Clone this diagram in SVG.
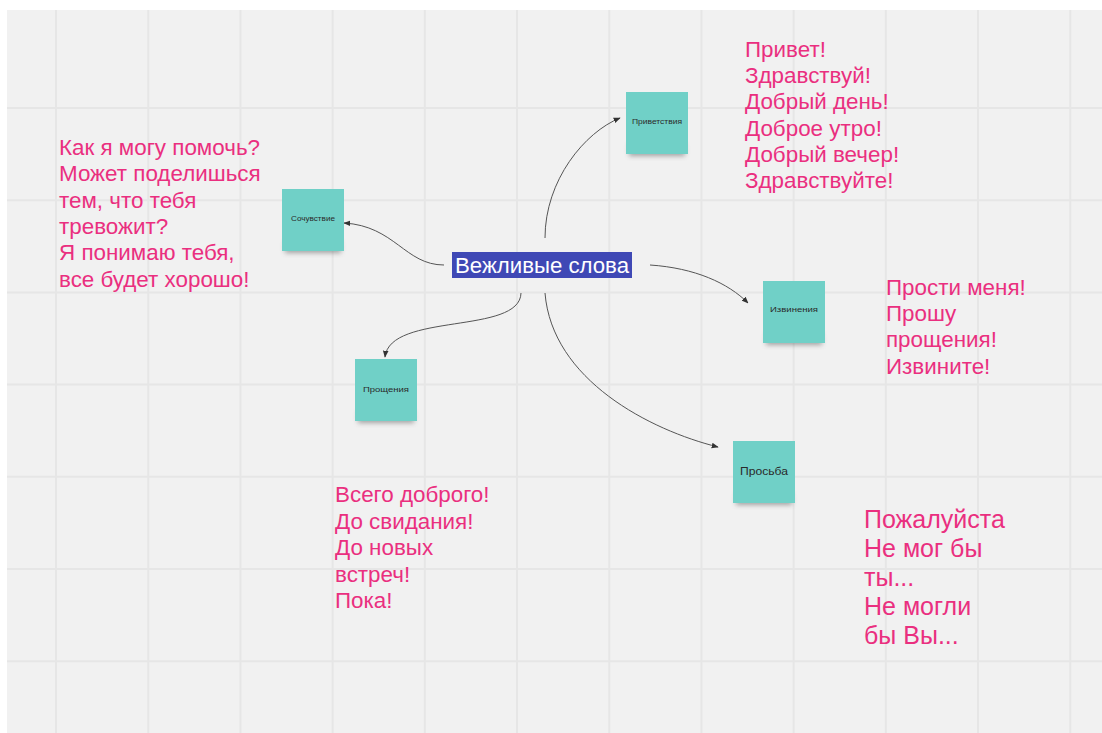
<svg xmlns="http://www.w3.org/2000/svg" width="1102" height="733" viewBox="0 0 1102 733">
<defs>
<style>
.pink{font-family:"Liberation Sans",Arial,sans-serif;font-size:22.4px;fill:#ea2f7f}
.big{font-size:25px}
.note{fill:#70d0c7}
.nl{font-family:"Liberation Sans",Arial,sans-serif;font-size:8px;fill:#2a2a2a;text-anchor:middle}
.grid{stroke:#e6e6e6;stroke-width:2}
.conn{fill:none;stroke:#555;stroke-width:1}
</style>
<marker id="ah" viewBox="0 0 10 10" refX="9" refY="5" markerWidth="7" markerHeight="7" orient="auto" markerUnits="userSpaceOnUse">
<path d="M0,1 L10,5 L0,9 z" fill="#333"/>
</marker>
<filter id="sh" x="-20%" y="-20%" width="140%" height="160%">
<feGaussianBlur stdDeviation="2.5"/>
</filter>
<g id="stickyShape">
<rect x="3" y="52" width="56" height="12" fill="#555" opacity="0.5" filter="url(#sh)"/>
<rect x="0" y="0" width="62" height="62" class="note"/>
</g>
</defs>
<rect width="1102" height="733" fill="#ffffff"/>
<rect x="7" y="10" width="1095" height="723" fill="#f1f1f1"/>
<g id="grid">
<path class="grid" d="M56,10V733M148.2,10V733M240.4,10V733M332.6,10V733M424.8,10V733M517,10V733M609.2,10V733M701.4,10V733M793.6,10V733M885.8,10V733M978,10V733M1070.2,10V733"/>
<path class="grid" d="M7,108H1102M7,200.2H1102M7,292.4H1102M7,384.6H1102M7,476.8H1102M7,569H1102M7,661.2H1102"/>
</g>
<g id="connectors">
<path class="conn" d="M545,238 C545,180 585,132 620,118" marker-end="url(#ah)"/>
<path class="conn" d="M444,265 C405,265 395,226 344,223" marker-end="url(#ah)"/>
<path class="conn" d="M650,265 C695,268 728,283 748,303" marker-end="url(#ah)"/>
<path class="conn" d="M521,293 C520,335 390,312 385,357" marker-end="url(#ah)"/>
<path class="conn" d="M545,293 C552,380 650,430 718,447" marker-end="url(#ah)"/>
</g>
<g id="center">
<rect x="452" y="252" width="180" height="26" fill="#3f48b5"/>
<text x="542" y="273" font-family="'Liberation Sans',Arial,sans-serif" font-size="22" fill="#ffffff" text-anchor="middle" textLength="174" lengthAdjust="spacingAndGlyphs">Вежливые слова</text>
</g>
<g id="n-greet" transform="translate(626,92)">
<use href="#stickyShape"/>
<text class="nl" x="31" y="32" textLength="50" lengthAdjust="spacingAndGlyphs">Приветствия</text>
</g>
<g id="n-sympathy" transform="translate(282,189)">
<use href="#stickyShape"/>
<text class="nl" x="31" y="32" textLength="44" lengthAdjust="spacingAndGlyphs">Сочувствие</text>
</g>
<g id="n-apology" transform="translate(763,281)">
<use href="#stickyShape"/>
<text class="nl" x="31" y="31" textLength="48" lengthAdjust="spacingAndGlyphs">Извинения</text>
</g>
<g id="n-farewell" transform="translate(355,359)">
<use href="#stickyShape"/>
<text class="nl" x="31" y="33" textLength="46" lengthAdjust="spacingAndGlyphs">Прощения</text>
</g>
<g id="n-request" transform="translate(733,441)">
<use href="#stickyShape"/>
<text class="nl" x="31" y="34" style="font-size:11px" textLength="48" lengthAdjust="spacingAndGlyphs">Просьба</text>
</g>
<g id="t-sympathy">
<text class="pink" x="59" y="155">Как я могу помочь?</text>
<text class="pink" x="59" y="181.3">Может поделишься</text>
<text class="pink" x="59" y="207.6">тем, что тебя</text>
<text class="pink" x="59" y="233.9">тревожит?</text>
<text class="pink" x="59" y="260.2">Я понимаю тебя,</text>
<text class="pink" x="59" y="286.5">все будет хорошо!</text>
</g>
<g id="t-greet">
<text class="pink" x="745" y="57">Привет!</text>
<text class="pink" x="745" y="83.2">Здравствуй!</text>
<text class="pink" x="745" y="109.4">Добрый день!</text>
<text class="pink" x="745" y="135.6">Доброе утро!</text>
<text class="pink" x="745" y="161.8">Добрый вечер!</text>
<text class="pink" x="745" y="188">Здравствуйте!</text>
</g>
<g id="t-apology">
<text class="pink" x="886" y="295">Прости меня!</text>
<text class="pink" x="886" y="321.2">Прошу</text>
<text class="pink" x="886" y="347.4">прощения!</text>
<text class="pink" x="886" y="373.6">Извините!</text>
</g>
<g id="t-farewell">
<text class="pink" x="335" y="502">Всего доброго!</text>
<text class="pink" x="335" y="528.5">До свидания!</text>
<text class="pink" x="335" y="555">До новых</text>
<text class="pink" x="335" y="581.5">встреч!</text>
<text class="pink" x="335" y="608">Пока!</text>
</g>
<g id="t-request">
<text class="pink big" x="864" y="528">Пожалуйста</text>
<text class="pink big" x="864" y="557">Не мог бы</text>
<text class="pink big" x="864" y="586">ты...</text>
<text class="pink big" x="864" y="615">Не могли</text>
<text class="pink big" x="864" y="644">бы Вы...</text>
</g>
</svg>
